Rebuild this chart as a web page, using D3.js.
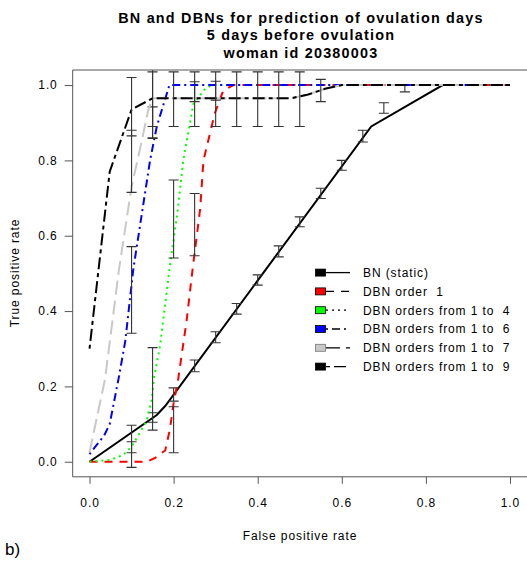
<!DOCTYPE html>
<html>
<head>
<meta charset="utf-8">
<script src="https://cdn.jsdelivr.net/npm/d3@7"></script>
<style>
  body { margin: 0; background: #fff; }
  svg { display: block; }
  text { font-family: "Liberation Sans", Arial, sans-serif; fill: #000; letter-spacing: 0.9px; }
</style>
</head>
<body>
<script>
(function() {
    'use strict';

    // curves: [false positive rate, true positive rate]
    var bnCurve  = [[0, 0], [0.16, 0.124], [0.18, 0.148], [0.67, 0.89], [0.84, 1], [1, 1]];
    var dbn1     = [[0, 0], [0.136, 0], [0.156, 0.01], [0.18, 0.03], [0.191, 0.085], [0.2, 0.155],
                    [0.211, 0.22], [0.231, 0.375], [0.245, 0.51], [0.263, 0.67], [0.271, 0.8],
                    [0.298, 0.925], [0.318, 0.985], [0.342, 1], [1, 1]];
    var dbn4     = [[0, 0], [0.05, 0.005], [0.08, 0.018], [0.1, 0.04], [0.116, 0.07], [0.136, 0.11],
                    [0.148, 0.165], [0.153, 0.22], [0.168, 0.31], [0.19, 0.51], [0.21, 0.67],
                    [0.223, 0.8], [0.247, 0.95], [0.275, 0.99], [0.29, 1], [1, 1]];
    var dbn6     = [[0, 0.02], [0.035, 0.07], [0.048, 0.1], [0.069, 0.22], [0.085, 0.32], [0.104, 0.51],
                    [0.144, 0.8], [0.16, 0.89], [0.19, 1], [1, 1]];
    var dbn7     = [[0, 0.025], [0.037, 0.22], [0.07, 0.51], [0.1, 0.73], [0.12, 0.83], [0.14, 0.935],
                    [0.15, 0.965], [0.48, 0.965], [0.52, 0.975], [0.56, 0.99], [0.6, 1], [1, 1]];
    var dbn9     = [[0, 0.3], [0.048, 0.77], [0.1, 0.935], [0.15, 0.965], [0.48, 0.965], [0.52, 0.975],
                    [0.56, 0.99], [0.6, 1], [1, 1]];

    // error bars: [fpr, low, high]
    var bnBars   = [[0.1, 0.024, 0.053], [0.15, 0.105, 0.13], [0.2, 0.161, 0.196], [0.25, 0.239, 0.27],
                    [0.3, 0.316, 0.345], [0.35, 0.392, 0.42], [0.4, 0.469, 0.496], [0.45, 0.544, 0.573],
                    [0.5, 0.624, 0.65], [0.55, 0.699, 0.726], [0.6, 0.774, 0.8], [0.65, 0.849, 0.88],
                    [0.7, 0.925, 0.953], [0.75, 0.982, 1.0]];
    var dbn1Bars = [[0.2, 0.024, 0.146], [0.25, 0.547, 0.712], [0.3, 0.96, 1.01]];
    var dbn4Bars = [[0.1, -0.015, 0.097], [0.15, 0.084, 0.303], [0.2, 0.541, 0.748], [0.25, 0.956, 1.009]];
    var dbn6Bars = [[0.1, 0.341, 0.571], [0.15, 0.86, 0.942]];
    var dbn7Bars = [[0.1, 0.715, 0.88], [0.15, 0.858, 1.07]];
    var dbn9Bars = [[0.1, 0.865, 1.02], [0.15, 0.89, 1.035], [0.2, 0.89, 1.035], [0.25, 0.89, 1.035],
                    [0.3, 0.89, 1.035], [0.35, 0.89, 1.035], [0.4, 0.89, 1.035], [0.45, 0.89, 1.035],
                    [0.5, 0.89, 1.035], [0.55, 0.956, 1.015]];

    var labels = ["BN (static)", "DBN order  1", "DBN orders from 1 to  4",
                  "DBN orders from 1 to  6", "DBN orders from 1 to  7", "DBN orders from 1 to  9"];
    var tickValues = [0, 0.2, 0.4, 0.6, 0.8, 1.0];
    var titleLines = ["BN and DBNs for prediction of ovulation days",
                      "5 days before ovulation", "woman id 20380003"];

    // styles
    var curves = [bnCurve, dbn1, dbn4, dbn6, dbn7, dbn9];
    var bars = [bnBars, dbn1Bars, dbn4Bars, dbn6Bars, dbn7Bars, dbn9Bars];
    var colors = ["#000000", "#ff0000", "#00ff00", "#0000ff", "#c8c8c8", "#000000"];
    var dashes = [null, "8,7", "2,4", "2,4,8,4", "14,6", "4,4,12,4"];

    var w = 527, h = 561;
    var svg = d3.select("body").append("svg")
                .attr("width", w)
                .attr("height", h);

    var x = d3.scaleLinear().domain([-0.04, 1.04]).range([72.7, 526.8]);
    var y = d3.scaleLinear().domain([-0.04, 1.04]).range([476.8, 70]);

    svg.append("clipPath").attr("id", "plotclip")
       .append("rect")
       .attr("x", 72.7).attr("y", 70)
       .attr("width", 454.1).attr("height", 406.8);

    var plot = svg.append("g").attr("clip-path", "url(#plotclip)");

    var line = d3.line()
                 .x(function(d) { return x(d[0]); })
                 .y(function(d) { return y(d[1]); });

    curves.forEach(function(c, i) {
        plot.append("path")
            .datum(c)
            .attr("d", line)
            .attr("fill", "none")
            .attr("stroke", colors[i])
            .attr("stroke-width", 2)
            .attr("stroke-dasharray", dashes[i]);

        var g = plot.append("g")
                    .attr("stroke", "#333")
                    .attr("stroke-width", 1.1)
                    .attr("fill", "none");
        var eb = g.selectAll("g")
                  .data(bars[i])
                  .enter()
                  .append("g");
        eb.append("line")
          .attr("x1", function(d) { return x(d[0]); })
          .attr("x2", function(d) { return x(d[0]); })
          .attr("y1", function(d) { return y(d[1]); })
          .attr("y2", function(d) { return y(d[2]); });
        eb.append("line")
          .attr("x1", function(d) { return x(d[0]) - 5; })
          .attr("x2", function(d) { return x(d[0]) + 5; })
          .attr("y1", function(d) { return y(d[1]); })
          .attr("y2", function(d) { return y(d[1]); });
        eb.append("line")
          .attr("x1", function(d) { return x(d[0]) - 5; })
          .attr("x2", function(d) { return x(d[0]) + 5; })
          .attr("y1", function(d) { return y(d[2]); })
          .attr("y2", function(d) { return y(d[2]); });
    });

    // box
    svg.append("path")
       .attr("d", "M528,70H72.7V476.8H528")
       .attr("fill", "none")
       .attr("stroke", "#555")
       .attr("stroke-width", 1);

    // axes
    var xAxis = svg.append("g")
                   .attr("transform", "translate(0,476.8)")
                   .call(d3.axisBottom(x).tickValues(tickValues).tickSize(7)
                           .tickFormat(d3.format(".1f")));
    xAxis.select(".domain").remove();
    xAxis.selectAll("line").attr("stroke", "#555");
    xAxis.selectAll("text")
         .attr("y", 22).attr("font-size", 12)
         .attr("font-family", null);

    var yAxis = svg.append("g")
                   .attr("transform", "translate(72.7,0)")
                   .call(d3.axisLeft(y).tickValues(tickValues).tickSize(8)
                           .tickFormat(d3.format(".1f")));
    yAxis.select(".domain").remove();
    yAxis.selectAll("line").attr("stroke", "#555");
    yAxis.selectAll("text")
         .attr("x", -15).attr("font-size", 12)
         .attr("font-family", null);

    // titles
    svg.selectAll("text.title")
       .data(titleLines)
       .enter()
       .append("text")
       .attr("class", "title")
       .attr("x", 301)
       .attr("y", function(d, i) { return 23 + i * 17.4; })
       .attr("text-anchor", "middle")
       .attr("font-weight", "bold")
       .attr("font-size", 14.4)
       .style("letter-spacing", "1.2px")
       .text(function(d) { return d; });

    svg.append("text")
       .attr("x", 300).attr("y", 540)
       .attr("text-anchor", "middle")
       .attr("font-size", 12)
       .text("False positive rate");

    svg.append("text")
       .attr("transform", "translate(19,273) rotate(-90)")
       .attr("text-anchor", "middle")
       .attr("font-size", 12)
       .text("True positive rate");

    svg.append("text")
       .attr("x", 5).attr("y", 555)
       .attr("font-size", 17)
       .style("letter-spacing", "0px")
       .text("b)");

    // legend
    var leg = svg.append("g");
    var rows = leg.selectAll("g")
                  .data(labels)
                  .enter()
                  .append("g")
                  .attr("transform", function(d, i) {
                      return "translate(0," + (272.6 + i * 18.8) + ")";
                  });
    rows.append("rect")
        .attr("x", 315.5).attr("y", -3.5)
        .attr("width", 10).attr("height", 7)
        .attr("fill", function(d, i) { return colors[i]; })
        .attr("stroke", function(d, i) { return i === 4 ? "#777" : "#000"; })
        .attr("stroke-width", 0.8);
    rows.append("line")
        .attr("x1", 326).attr("x2", 350)
        .attr("stroke", "#000")
        .attr("stroke-width", 1.3)
        .attr("stroke-dasharray", function(d, i) { return dashes[i]; });
    rows.append("text")
        .attr("x", 363).attr("dy", "0.36em")
        .attr("font-size", 12)
        .style("white-space", "pre")
        .text(function(d) { return d; });
}());
</script>
</body>
</html>
